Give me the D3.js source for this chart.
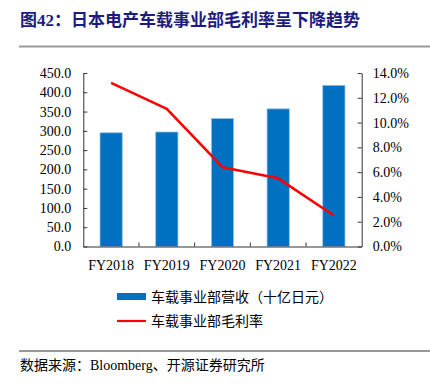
<!DOCTYPE html>
<html>
<head>
<meta charset="utf-8">
<script src="https://cdn.jsdelivr.net/npm/d3@7"></script>
<style>
  body { margin: 0; background: #fff; }
  svg { display: block; }
</style>
</head>
<body>
<svg id="chart"></svg>
<script>
// data
const years = ['FY2018', 'FY2019', 'FY2020', 'FY2021', 'FY2022'];
const revenue = [295, 297, 332, 357, 418];          // 十亿日元
const margin = [0.132, 0.111, 0.064, 0.055, 0.025]; // 毛利率
const leftTicks = [0, 50, 100, 150, 200, 250, 300, 350, 400, 450];
const rightTicks = [0, 0.02, 0.04, 0.06, 0.08, 0.10, 0.12, 0.14];

const W = 430, H = 386;
const SERIF = '"Times New Roman", "Liberation Serif", "Noto Sans CJK SC", serif';
const SANS = '"Noto Sans CJK SC", "Noto Sans", sans-serif';
const AXIS = '#333';

const plot = { x0: 83.3, x1: 361.7, y0: 73, y1: 246.5 };

const svg = d3.select('#chart').attr('width', W).attr('height', H);

// ── title + rule ──
svg.append('text')
  .attr('x', 20).attr('y', 26)
  .attr('font-family', SERIF).attr('font-weight', 'bold')
  .attr('font-size', 17).attr('fill', '#1c1c80')
  .text('图42：日本电产车载事业部毛利率呈下降趋势');
svg.append('line')
  .attr('x1', 19).attr('x2', W).attr('y1', 46.5).attr('y2', 46.5)
  .attr('stroke', '#999').attr('stroke-width', 2);

// ── scales ──
const x = d3.scaleBand().domain(years).range([plot.x0, plot.x1]).paddingInner(0.6).paddingOuter(0.3);
const xb = d3.scaleBand().domain(years).range([plot.x0, plot.x1]);
const yL = d3.scaleLinear().domain([0, 450]).range([plot.y1, plot.y0]);
const yR = d3.scaleLinear().domain([0, 0.14]).range([plot.y1, plot.y0]);

// ── bars ──
svg.append('g').selectAll('rect')
  .data(years)
  .join('rect')
    .attr('x', d => x(d))
    .attr('y', (d, i) => yL(revenue[i]))
    .attr('width', x.bandwidth())
    .attr('height', (d, i) => plot.y1 - yL(revenue[i]))
    .attr('fill', '#0070c0')
    .attr('stroke', '#9dc3e6').attr('stroke-width', 0.8);

// ── margin line ──
const line = d3.line()
  .x((d, i) => xb(years[i]) + xb.bandwidth() / 2)
  .y(d => yR(d));
svg.append('path')
  .datum(margin)
  .attr('d', line)
  .attr('fill', 'none').attr('stroke', '#ff0000').attr('stroke-width', 2.6)
  .attr('stroke-linejoin', 'round');

// ── axes ──
function styleAxis(g) {
  g.selectAll('path').attr('stroke', AXIS);
  g.selectAll('line').attr('stroke', AXIS);
  g.selectAll('text').attr('font-family', SERIF).attr('font-size', 14).attr('fill', '#000');
}

const axL = svg.append('g')
  .attr('transform', `translate(${plot.x0},0)`)
  .call(d3.axisLeft(yL).tickValues(leftTicks).tickFormat(d3.format('.1f')).tickSizeInner(-4).tickSizeOuter(0).tickPadding(12));
styleAxis(axL);

const axR = svg.append('g')
  .attr('transform', `translate(${plot.x1},0)`)
  .call(d3.axisRight(yR).tickValues(rightTicks).tickFormat(d3.format('.1%')).tickSizeInner(-4).tickSizeOuter(0).tickPadding(11));
styleAxis(axR);

const axB = svg.append('g')
  .attr('transform', `translate(0,${plot.y1})`)
  .call(d3.axisBottom(xb).tickSize(0).tickPadding(14));
styleAxis(axB);
// category-boundary ticks pointing up
axB.selectAll('.bound')
  .data(years.slice(1))
  .join('line')
    .attr('class', 'bound')
    .attr('x1', d => xb(d)).attr('x2', d => xb(d))
    .attr('y1', 0).attr('y2', -4)
    .attr('stroke', AXIS);

// ── legend ──
const leg = svg.append('g');
leg.append('rect').attr('x', 117).attr('y', 293).attr('width', 29).attr('height', 7).attr('fill', '#0070c0');
leg.append('text').attr('x', 151).attr('y', 301.5)
  .attr('font-family', SANS).attr('font-size', 14).attr('fill', '#000')
  .text('车载事业部营收（十亿日元）');
leg.append('line').attr('x1', 117).attr('x2', 146).attr('y1', 321).attr('y2', 321)
  .attr('stroke', '#ff0000').attr('stroke-width', 2.2);
leg.append('text').attr('x', 151).attr('y', 326)
  .attr('font-family', SANS).attr('font-size', 14).attr('fill', '#000')
  .text('车载事业部毛利率');

// ── source footer ──
svg.append('line')
  .attr('x1', 19).attr('x2', W).attr('y1', 351).attr('y2', 351)
  .attr('stroke', '#333').attr('stroke-width', 1);
svg.append('text')
  .attr('x', 20).attr('y', 370)
  .attr('font-family', SERIF).attr('font-size', 14).attr('fill', '#000')
  .text('数据来源：Bloomberg、开源证券研究所');
</script>
</body>
</html>
